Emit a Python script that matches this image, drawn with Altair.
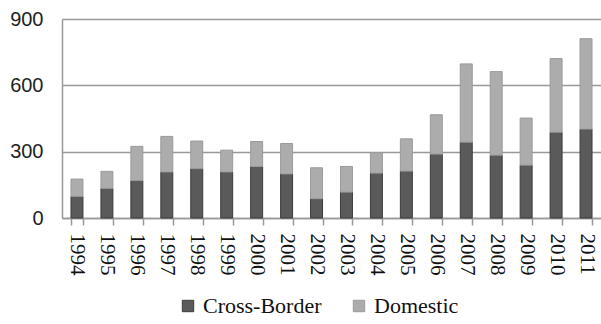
import altair as alt
import pandas as pd

years = [str(y) for y in range(1994, 2012)]
cross_border = [98, 134, 169, 208, 223, 208, 233, 199, 87, 117, 203, 212, 289, 343, 284, 239, 388, 402]
totals = [176, 211, 324, 369, 348, 307, 346, 337, 227, 233, 295, 358, 467, 697, 662, 452, 721, 811]
domestic = [t - c for t, c in zip(totals, cross_border)]
series = ["Cross-Border", "Domestic"]

rows = []
for y, c, d in zip(years, cross_border, domestic):
    rows.append({"Year": y, "Type": series[0], "Value": c, "ord": 0})
    rows.append({"Year": y, "Type": series[1], "Value": d, "ord": 1})
df = pd.DataFrame(rows)

chart = alt.Chart(df).mark_bar(strokeWidth=1).encode(
    x=alt.X("Year:N", sort=years, title=None,
            scale=alt.Scale(paddingInner=0.6, paddingOuter=0.3),
            axis=alt.Axis(labelAngle=90, labelFont="Liberation Serif", labelFontSize=21,
                          labelColor="#111", labelAlign="left", labelBaseline="middle",
                          labelPadding=8, tickBand="extent", tickSize=7, tickColor="#999",
                          tickWidth=1.5, domainColor="#999", domainWidth=1.5)),
    y=alt.Y("Value:Q", title=None, stack="zero",
            scale=alt.Scale(domain=[0, 900], nice=False),
            axis=alt.Axis(values=[0, 300, 600, 900], labelFont="Liberation Sans",
                          labelFontSize=20, labelColor="#222", labelPadding=19,
                          ticks=False, domainColor="#999", domainWidth=1.5,
                          gridColor="#999", gridWidth=1.5)),
    color=alt.Color("Type:N", sort=series,
                    scale=alt.Scale(domain=series, range=["#5a5a5a", "#acacac"]),
                    legend=alt.Legend(title=None, orient="none", direction="horizontal",
                                      legendX=115, legendY=276, symbolType="square",
                                      symbolSize=130, symbolStrokeWidth=1,
                                      labelFont="Liberation Serif", labelFontSize=22,
                                      labelColor="#111", columnPadding=26, labelOffset=4)),
    stroke=alt.Stroke("Type:N", scale=alt.Scale(domain=series, range=["#3c3c3c", "#9a9a9a"]),
                      legend=None),
    order=alt.Order("ord:Q"),
).properties(
    width=539, height=199,
    autosize=alt.AutoSizeParams(type="none"),
    padding={"left": 62, "top": 19, "right": 0, "bottom": 106},
).configure_view(stroke=None).configure(background="white")

chart.save("out.html", embed_options={"renderer": "svg", "actions": False})
